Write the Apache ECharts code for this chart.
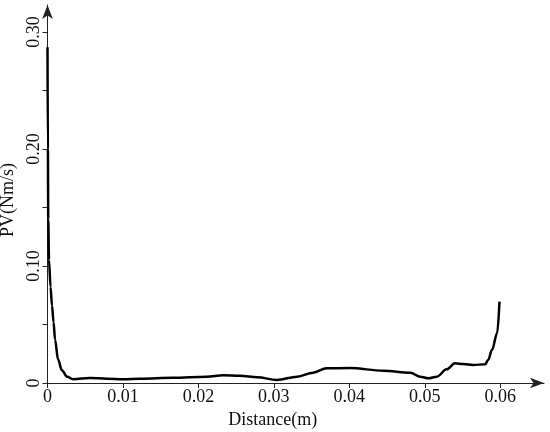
<!DOCTYPE html>
<html>
<head>
<meta charset="utf-8">
<script src="https://cdn.jsdelivr.net/npm/echarts@6/dist/echarts.min.js"></script>
<style>html,body{margin:0;padding:0;background:#fff}#c{width:550px;height:432px}</style>
</head>
<body>
<div id="c"></div>
<script>
const distance = [0, 0.00005, 0.0001, 0.0002, 0.0004, 0.0006, 0.0008, 0.0010, 0.0014, 0.0019, 0.0026, 0.0034, 0.0056, 0.0079, 0.0100, 0.0123, 0.0166, 0.0211, 0.0233, 0.0255, 0.0278, 0.0304, 0.0331, 0.0352, 0.0370, 0.0401, 0.0445, 0.0481, 0.0494, 0.0505, 0.0516, 0.0529, 0.0540, 0.0551, 0.0564, 0.0580, 0.0584, 0.0589, 0.0596, 0.0599];
const pv = [0.287, 0.200, 0.140, 0.105, 0.082, 0.066, 0.052, 0.037, 0.020, 0.011, 0.0054, 0.0032, 0.0043, 0.0037, 0.0032, 0.0037, 0.0045, 0.0054, 0.0066, 0.0062, 0.0049, 0.0026, 0.0054, 0.0088, 0.0126, 0.0128, 0.0105, 0.0088, 0.0054, 0.0040, 0.0054, 0.0117, 0.0168, 0.0162, 0.0154, 0.0160, 0.0197, 0.0282, 0.0427, 0.0695];
const xTicks = [0, 0.01, 0.02, 0.03, 0.04, 0.05, 0.06];
const yTicks = [0, 0.05, 0.10, 0.15, 0.20, 0.25, 0.30];
const yLabelValues = [0, 0.10, 0.20, 0.30];

const font = '"Liberation Serif", "DejaVu Serif", serif';
const chart = echarts.init(document.getElementById('c'));
chart.setOption({
  backgroundColor: '#fff',
  animation: false,
  grid: { left: 47.5, right: 6, top: 5, bottom: 49, containLabel: false, outerBoundsMode: 'none' },
  xAxis: {
    type: 'value', min: 0, max: 0.0658,
    name: 'Distance(m)', nameLocation: 'middle', nameGap: 21,
    nameTextStyle: { fontFamily: font, fontSize: 18, color: '#111', padding: [0, 46, 0, 0] },
    axisLine: { show: true, onZero: false, lineStyle: { color: '#222', width: 1 }, symbol: ['none', 'arrow'], symbolSize: [8, 14] },
    axisTick: { show: true, inside: false, length: 5, customValues: xTicks, lineStyle: { color: '#222' } },
    axisLabel: { customValues: xTicks, fontFamily: font, fontSize: 18, color: '#111', margin: 5,
      formatter: v => v === 0 ? '0' : v.toFixed(2) },
    splitLine: { show: false }
  },
  yAxis: {
    type: 'value', min: 0, max: 0.323,
    name: 'PV(Nm/s)', nameLocation: 'middle', nameGap: 22, nameRotate: 90,
    nameTextStyle: { fontFamily: font, fontSize: 18, color: '#111', padding: [0, 12, 0, 0] },
    axisLine: { show: true, onZero: false, lineStyle: { color: '#222', width: 1 }, symbol: ['none', 'arrow'], symbolSize: [8, 14] },
    axisTick: { show: true, inside: false, length: 5, customValues: yTicks, lineStyle: { color: '#222' } },
    axisLabel: { customValues: yLabelValues, rotate: 90, fontFamily: font, fontSize: 18, color: '#111', margin: 4,
      formatter: v => v === 0 ? '0' : v.toFixed(2) },
    splitLine: { show: false }
  },
  series: [{
    type: 'line',
    data: distance.map((d, i) => [d, pv[i]]),
    showSymbol: false,
    smooth: 0.35,
    smoothMonotone: 'x',
    lineStyle: { color: '#000', width: 2.5 }
  }]
});
</script>
</body>
</html>
